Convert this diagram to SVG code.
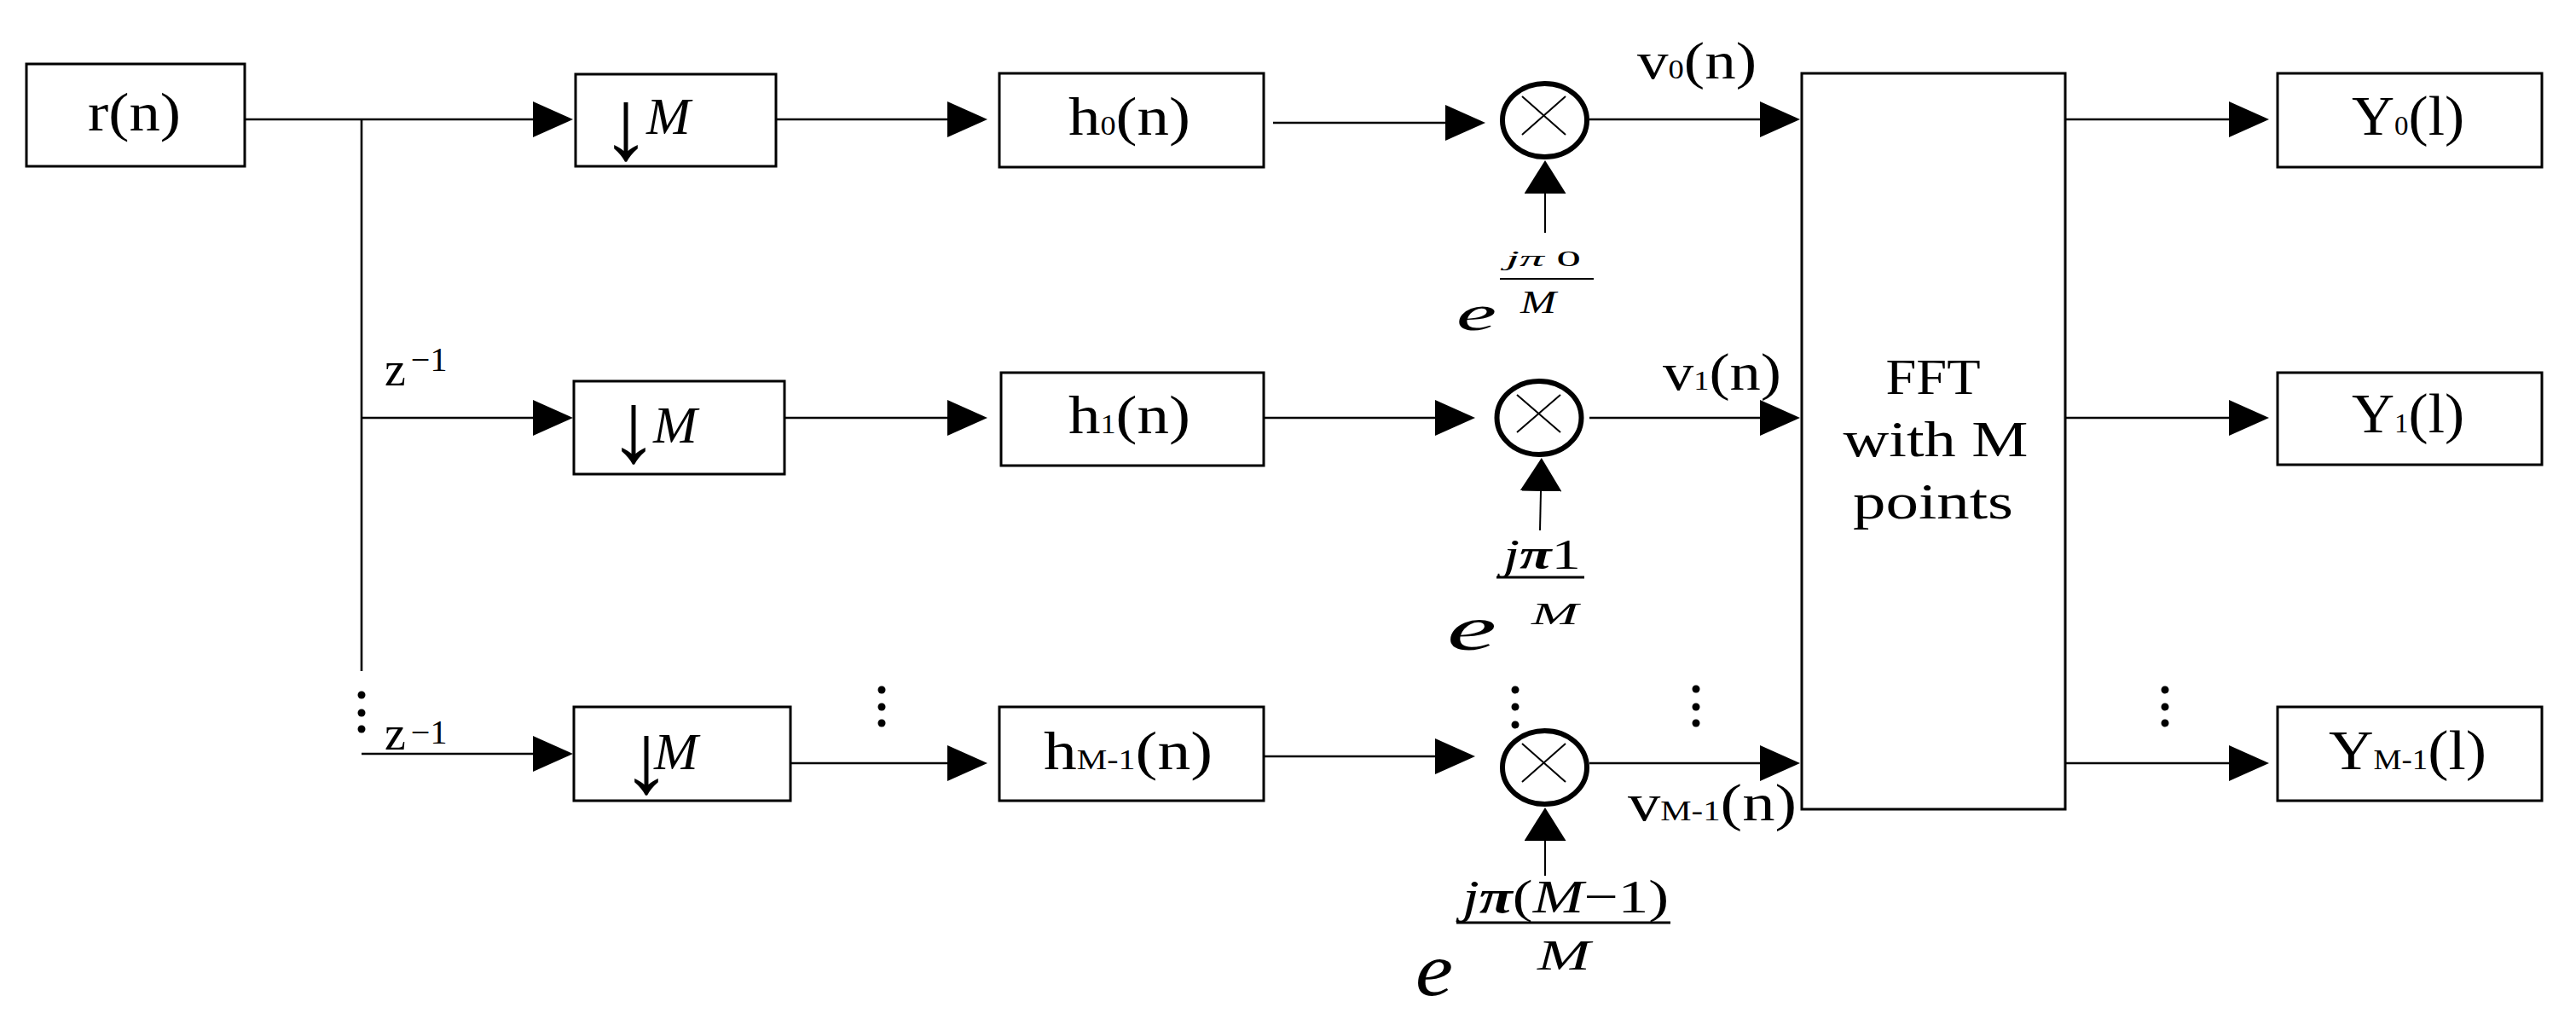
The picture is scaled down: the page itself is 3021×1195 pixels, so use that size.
<svg xmlns="http://www.w3.org/2000/svg" width="3021" height="1195" viewBox="0 0 3021 1195">
<style>
.bx{fill:#fff;stroke:#000;stroke-width:3}
.ln{fill:none;stroke:#000;stroke-width:2.6}
.thin{fill:none;stroke:#000;stroke-width:2}
.ring{fill:#fff;stroke:#000;stroke-width:6}
.xl{stroke:#000;stroke-width:2}
.bar{stroke:#000}
.t{font-family:"Liberation Serif","Times New Roman",serif;fill:#000}
.i{font-style:italic}
.n{font-style:normal;font-weight:normal}
.arr{font-size:118px}
.dot{fill:#000}
</style>
<defs>
<marker id="ah" markerUnits="userSpaceOnUse" viewBox="0 0 47 42" markerWidth="47" markerHeight="42" refX="0" refY="21" orient="auto"><path d="M0,0 L47,21 L0,42 z" fill="#000"/></marker>
<marker id="av" markerUnits="userSpaceOnUse" viewBox="0 0 39 49" markerWidth="39" markerHeight="49" refX="0" refY="24.5" orient="auto"><path d="M0,0 L39,24.5 L0,49 z" fill="#000"/></marker>
</defs>
<rect width="3021" height="1195" fill="#fff"/>

<g id="connectors">
<path class="ln" d="M287,140 H625" marker-end="url(#ah)"/>
<path class="ln" d="M424,140 V787"/>
<path class="ln" d="M424,490 H625" marker-end="url(#ah)"/>
<path class="ln" d="M424,884 H625" marker-end="url(#ah)"/>
<path class="ln" d="M910,140 H1111" marker-end="url(#ah)"/>
<path class="ln" d="M920,490 H1111" marker-end="url(#ah)"/>
<path class="ln" d="M927,895 H1111" marker-end="url(#ah)"/>
<path class="ln" d="M1493,144 H1695" marker-end="url(#ah)"/>
<path class="ln" d="M1482,490 H1683" marker-end="url(#ah)"/>
<path class="ln" d="M1482,887 H1683" marker-end="url(#ah)"/>
<path class="ln" d="M1864,140 H2064" marker-end="url(#ah)"/>
<path class="ln" d="M1864,490 H2064" marker-end="url(#ah)"/>
<path class="ln" d="M1864,895 H2064" marker-end="url(#ah)"/>
<path class="ln" d="M2422,140 H2614" marker-end="url(#ah)"/>
<path class="ln" d="M2422,490 H2614" marker-end="url(#ah)"/>
<path class="ln" d="M2422,895 H2614" marker-end="url(#ah)"/>
<path class="thin" d="M1812,273 V227" marker-end="url(#av)"/>
<path class="thin" d="M1806,622 L1807,576" marker-end="url(#av)"/>
<path class="thin" d="M1812,1027 V986" marker-end="url(#av)"/>
</g>

<g id="dots">
<circle class="dot" cx="424" cy="815" r="4.5"/><circle class="dot" cx="424" cy="836" r="4.5"/><circle class="dot" cx="424" cy="855" r="4.5"/>
<circle class="dot" cx="1034" cy="809" r="4.5"/><circle class="dot" cx="1034" cy="829" r="4.5"/><circle class="dot" cx="1034" cy="848" r="4.5"/>
<circle class="dot" cx="1777" cy="809" r="4.5"/><circle class="dot" cx="1777" cy="829" r="4.5"/><circle class="dot" cx="1777" cy="850" r="4.5"/>
<circle class="dot" cx="1989" cy="808" r="4.5"/><circle class="dot" cx="1989" cy="829" r="4.5"/><circle class="dot" cx="1989" cy="848" r="4.5"/>
<circle class="dot" cx="2539" cy="809" r="4.5"/><circle class="dot" cx="2539" cy="829" r="4.5"/><circle class="dot" cx="2539" cy="848" r="4.5"/>
</g>

<g id="delay1"><text class="t" x="451" y="452" font-size="56">z<tspan dx="6" dy="-17" font-size="40">−1</tspan></text></g>
<g id="delay2"><text class="t" x="451" y="879" font-size="56">z<tspan dx="6" dy="-7" font-size="40">−1</tspan></text></g>

<g id="rn"><rect class="bx" x="31" y="75" width="256" height="120"/><text class="t" x="103" y="153" font-size="64" textLength="109" lengthAdjust="spacingAndGlyphs">r(n)</text></g>

<g id="down0"><rect class="bx" x="675" y="87" width="235" height="108"/><text class="t" font-size="64"><tspan class="arr" x="734" y="186" text-anchor="middle">↓</tspan><tspan class="i" x="758" y="157" font-size="62">M</tspan></text></g>
<g id="down1"><rect class="bx" x="673" y="447" width="247" height="109"/><text class="t" font-size="64"><tspan class="arr" x="743" y="541" text-anchor="middle">↓</tspan><tspan class="i" x="766" y="519" font-size="62">M</tspan></text></g>
<g id="downM"><rect class="bx" x="673" y="829" width="254" height="110"/><text class="t" font-size="64"><tspan class="arr" x="758" y="929" text-anchor="middle">↓</tspan><tspan class="i" x="767" y="902" font-size="62">M</tspan></text></g>

<g id="h0"><rect class="bx" x="1172" y="86" width="310" height="110"/><text class="t" x="1253" y="158" font-size="64" textLength="143" lengthAdjust="spacingAndGlyphs">h<tspan font-size="31">0</tspan>(n)</text></g>
<g id="h1"><rect class="bx" x="1174" y="437" width="308" height="109"/><text class="t" x="1253" y="508" font-size="64" textLength="143" lengthAdjust="spacingAndGlyphs">h<tspan font-size="31">1</tspan>(n)</text></g>
<g id="hM"><rect class="bx" x="1172" y="829" width="310" height="110"/><text class="t" x="1224" y="902" font-size="64" textLength="198" lengthAdjust="spacingAndGlyphs">h<tspan font-size="33">M-1</tspan>(n)</text></g>

<g id="mul0"><ellipse class="ring" cx="1811.5" cy="141" rx="49.5" ry="43"/><line class="xl" x1="1785" y1="113" x2="1836" y2="158"/><line class="xl" x1="1836" y1="113" x2="1785" y2="158"/></g>
<g id="mul1"><ellipse class="ring" cx="1805" cy="490" rx="49.5" ry="43"/><line class="xl" x1="1779" y1="463" x2="1830" y2="507"/><line class="xl" x1="1830" y1="463" x2="1779" y2="507"/></g>
<g id="mulM"><ellipse class="ring" cx="1811.5" cy="900" rx="49.5" ry="43"/><line class="xl" x1="1785" y1="872" x2="1836" y2="917"/><line class="xl" x1="1836" y1="872" x2="1785" y2="917"/></g>

<g id="exp0">
<text class="t i" x="1708" y="387" font-size="60" textLength="47" lengthAdjust="spacingAndGlyphs">e</text>
<text class="t i" x="1766" y="312" font-size="25" textLength="88" lengthAdjust="spacingAndGlyphs">jπ <tspan class="n">0</tspan></text>
<line class="bar" x1="1759" y1="327" x2="1869" y2="327" stroke-width="2"/>
<text class="t i" x="1783" y="367" font-size="38" textLength="42" lengthAdjust="spacingAndGlyphs">M</text>
</g>
<g id="exp1">
<text class="t i" x="1697" y="762" font-size="75" textLength="58" lengthAdjust="spacingAndGlyphs">e</text>
<text class="t i" x="1763" y="667" font-size="50" textLength="91" lengthAdjust="spacingAndGlyphs">j<tspan font-weight="bold">π</tspan><tspan class="n">1</tspan></text>
<line class="bar" x1="1755" y1="677" x2="1858" y2="677" stroke-width="3"/>
<text class="t i" x="1796" y="732" font-size="36" textLength="55" lengthAdjust="spacingAndGlyphs">M</text>
</g>
<g id="expM">
<text class="t i" x="1660" y="1167" font-size="88" textLength="44" lengthAdjust="spacingAndGlyphs">e</text>
<text class="t i" x="1715" y="1070" font-size="55" textLength="242" lengthAdjust="spacingAndGlyphs">j<tspan font-weight="bold">π</tspan><tspan class="n">(</tspan>M<tspan class="n">−1)</tspan></text>
<line class="bar" x1="1708" y1="1082" x2="1959" y2="1082" stroke-width="3"/>
<text class="t i" x="1803" y="1137" font-size="51" textLength="62" lengthAdjust="spacingAndGlyphs">M</text>
</g>

<g id="v0"><text class="t" x="1920" y="92" font-size="62" textLength="140" lengthAdjust="spacingAndGlyphs">v<tspan font-size="31">0</tspan>(n)</text></g>
<g id="v1"><text class="t" x="1950" y="457" font-size="62" textLength="139" lengthAdjust="spacingAndGlyphs">v<tspan font-size="31">1</tspan>(n)</text></g>
<g id="vM"><text class="t" x="1909" y="962" font-size="62" textLength="198" lengthAdjust="spacingAndGlyphs">v<tspan font-size="33">M-1</tspan>(n)</text></g>

<g id="fft"><rect class="bx" x="2113" y="86" width="309" height="863"/>
<text class="t" x="2267" y="462" font-size="60" text-anchor="middle" textLength="111" lengthAdjust="spacingAndGlyphs">FFT</text>
<text class="t" x="2270" y="535" font-size="60" text-anchor="middle" textLength="217" lengthAdjust="spacingAndGlyphs">with M</text>
<text class="t" x="2267" y="608" font-size="60" text-anchor="middle" textLength="188" lengthAdjust="spacingAndGlyphs">points</text>
</g>

<g id="Y0"><rect class="bx" x="2671" y="86" width="310" height="110"/><text class="t" x="2758" y="158" font-size="65" textLength="132" lengthAdjust="spacingAndGlyphs">Y<tspan font-size="31">0</tspan>(l)</text></g>
<g id="Y1"><rect class="bx" x="2671" y="437" width="310" height="108"/><text class="t" x="2758" y="507" font-size="65" textLength="132" lengthAdjust="spacingAndGlyphs">Y<tspan font-size="31">1</tspan>(l)</text></g>
<g id="YM"><rect class="bx" x="2671" y="829" width="310" height="110"/><text class="t" x="2731" y="902" font-size="65" textLength="185" lengthAdjust="spacingAndGlyphs">Y<tspan font-size="33">M-1</tspan>(l)</text></g>
</svg>
